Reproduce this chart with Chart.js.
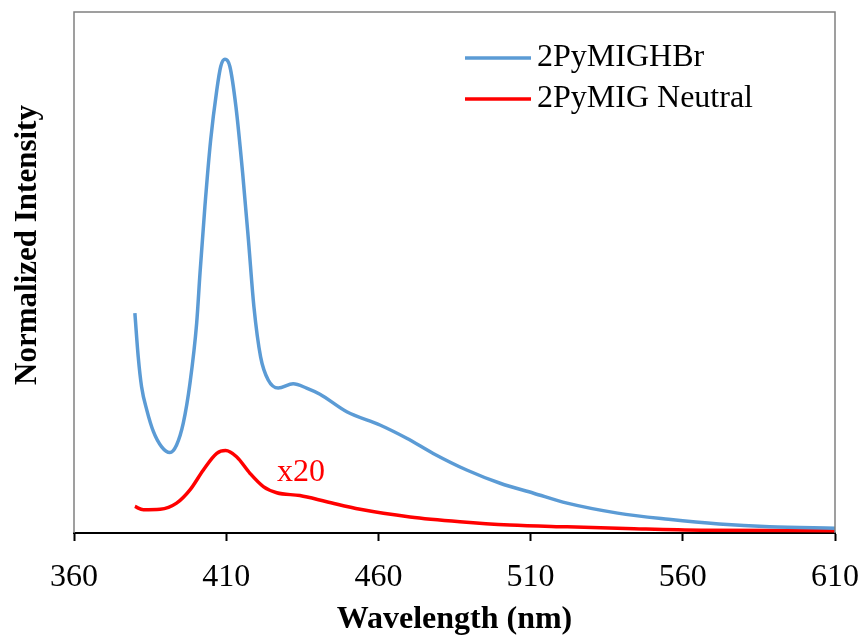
<!DOCTYPE html>
<html>
<head>
<meta charset="utf-8">
<script src="https://cdn.jsdelivr.net/npm/chart.js@4/dist/chart.umd.min.js"></script>
<style>
	html, body { margin: 0; padding: 0; background: #fff; }
	#wrap { width: 864px; height: 636px; }
</style>
</head>
<body>
<div id="wrap"><canvas id="spectra"></canvas></div>
<script>
// Wavelength (nm) / normalized intensity
const hbrWavelength = [380, 381.1, 382.2, 383.9, 386.1, 388.8, 391.5, 393.7, 395.9, 398.1, 400.3, 401.4, 403, 404.9, 406.9, 408.2, 409.6, 411.2, 413.2, 415.4, 417.3, 419.1, 421.3, 423.8, 427.1, 432, 436.4, 440.8, 449.6, 460.5, 469.3, 478, 489, 500, 511, 522, 538.6, 555.3, 571.9, 588.5, 610];
const hbrIntensity = [0.464, 0.372, 0.309, 0.260, 0.214, 0.182, 0.170, 0.186, 0.232, 0.316, 0.443, 0.549, 0.689, 0.830, 0.935, 0.985, 1.0, 0.985, 0.900, 0.760, 0.619, 0.478, 0.372, 0.323, 0.306, 0.315, 0.306, 0.293, 0.256, 0.228, 0.200, 0.168, 0.133, 0.105, 0.084, 0.063, 0.042, 0.029, 0.019, 0.013, 0.010];

const neutralWavelength = [380, 382.8, 388.3, 393.7, 398.1, 402.5, 406.9, 409.8, 413.4, 417.8, 422.2, 426.6, 434.2, 443, 454, 470.4, 486.8, 503.2, 522, 544, 566, 610];
const neutralIntensity = [0.056, 0.049, 0.050, 0.063, 0.091, 0.133, 0.168, 0.174, 0.161, 0.126, 0.098, 0.085, 0.079, 0.066, 0.050, 0.034, 0.024, 0.017, 0.013, 0.009, 0.006, 0.005];

const seriesNames = ['2PyMIGHBr', '2PyMIG Neutral'];
const xTicks = [360, 410, 460, 510, 560, 610];

const serif = '"Liberation Serif", "Times New Roman", serif';

const toPoints = (xs, ys) => xs.map((x, i) => ({ x: x, y: ys[i] }));

// frame, titles, legend and the x20 note
const decorations = {
	id: 'decorations',
	afterDraw(chart) {
		const ctx = chart.ctx;
		const a = chart.chartArea;
		ctx.save();

		ctx.strokeStyle = '#808080';
		ctx.lineWidth = 1.5;
		ctx.beginPath();
		ctx.moveTo(a.left, a.bottom);
		ctx.lineTo(a.left, a.top);
		ctx.lineTo(a.right, a.top);
		ctx.lineTo(a.right, a.bottom);
		ctx.stroke();

		ctx.fillStyle = '#000';
		ctx.font = 'bold 32px ' + serif;
		ctx.textAlign = 'center';
		ctx.textBaseline = 'middle';
		ctx.fillText('Wavelength (nm)', (a.left + a.right) / 2, 620);

		ctx.save();
		ctx.translate(28, 245);
		ctx.rotate(-Math.PI / 2);
		ctx.font = 'bold 31px ' + serif;
		ctx.fillText('Normalized Intensity', 0, 0);
		ctx.restore();

		ctx.font = '32px ' + serif;
		ctx.textAlign = 'left';
		chart.data.datasets.forEach((ds, i) => {
			const y = 58 + i * 41;
			ctx.strokeStyle = ds.borderColor;
			ctx.lineWidth = 3.5;
			ctx.beginPath();
			ctx.moveTo(465, y);
			ctx.lineTo(531, y);
			ctx.stroke();
			ctx.fillStyle = '#000';
			ctx.fillText(ds.label, 537, y);
		});

		ctx.fillStyle = '#ff0000';
		ctx.textAlign = 'center';
		ctx.fillText('x20', 301, 473);

		ctx.restore();
	}
};

new Chart(document.getElementById('spectra').getContext('2d'), {
	type: 'scatter',
	data: {
		datasets: [
			{
				label: seriesNames[0],
				data: toPoints(hbrWavelength, hbrIntensity),
				showLine: true,
				borderColor: '#5b9bd5',
				borderWidth: 3.5,
				pointRadius: 0,
				cubicInterpolationMode: 'monotone',
				fill: false
			},
			{
				label: seriesNames[1],
				data: toPoints(neutralWavelength, neutralIntensity),
				showLine: true,
				borderColor: '#ff0000',
				borderWidth: 3.5,
				pointRadius: 0,
				cubicInterpolationMode: 'monotone',
				fill: false
			}
		]
	},
	options: {
		responsive: true,
		maintainAspectRatio: false,
		animation: false,
		layout: { padding: { left: 74, right: 29, top: 12, bottom: 0 } },
		plugins: {
			legend: { display: false },
			tooltip: { enabled: false }
		},
		scales: {
			x: {
				type: 'linear',
				min: 360,
				max: 610,
				afterBuildTicks: scale => { scale.ticks = xTicks.map(v => ({ value: v })); },
				afterFit: scale => {
					scale.height = 103;
					scale.paddingLeft = 0;
					scale.paddingRight = 0;
				},
				ticks: {
					color: '#000',
					font: { family: serif, size: 32 },
					padding: 17,
					maxRotation: 0
				},
				grid: {
					display: true,
					drawOnChartArea: false,
					tickLength: 8,
					tickColor: '#000',
					tickWidth: 2
				},
				border: { display: true, color: '#000', width: 2 }
			},
			y: {
				display: false,
				min: 0,
				max: 1.1
			}
		}
	},
	plugins: [decorations]
});
</script>
</body>
</html>
